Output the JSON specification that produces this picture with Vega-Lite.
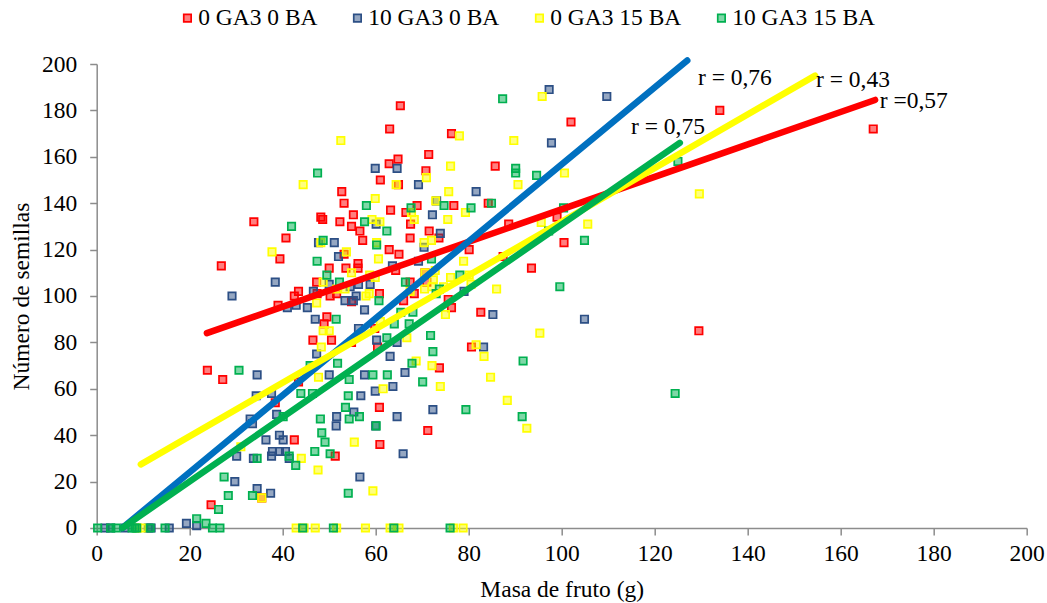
{"$schema":"https://vega.github.io/schema/vega-lite/v6.json","width":930,"height":464,"autosize":{"type":"none"},"padding":{"left":96.7,"top":64,"right":20,"bottom":75},"background":"white",
"config":{"view":{"stroke":null},"font":"Liberation Serif"},
"datasets":{"points":[
{"s":"0 GA3 0 BA","x":33.8,"y":132},{"s":"0 GA3 0 BA","x":26.8,"y":113},{"s":"0 GA3 0 BA","x":40.7,"y":125},{"s":"0 GA3 0 BA","x":39.4,"y":116},{"s":"0 GA3 0 BA","x":52.7,"y":145},{"s":"0 GA3 0 BA","x":53.2,"y":140},{"s":"0 GA3 0 BA","x":48.2,"y":134},{"s":"0 GA3 0 BA","x":48.6,"y":133},{"s":"0 GA3 0 BA","x":52.3,"y":132},{"s":"0 GA3 0 BA","x":55.2,"y":135},{"s":"0 GA3 0 BA","x":54.8,"y":130},{"s":"0 GA3 0 BA","x":56.6,"y":128},{"s":"0 GA3 0 BA","x":57.2,"y":124},{"s":"0 GA3 0 BA","x":50,"y":112},{"s":"0 GA3 0 BA","x":53.6,"y":112},{"s":"0 GA3 0 BA","x":56.2,"y":114},{"s":"0 GA3 0 BA","x":56.2,"y":112},{"s":"0 GA3 0 BA","x":53.2,"y":118},{"s":"0 GA3 0 BA","x":61,"y":150},{"s":"0 GA3 0 BA","x":47.3,"y":106},{"s":"0 GA3 0 BA","x":43.4,"y":102},{"s":"0 GA3 0 BA","x":42.5,"y":100},{"s":"0 GA3 0 BA","x":50.2,"y":100},{"s":"0 GA3 0 BA","x":51.6,"y":101},{"s":"0 GA3 0 BA","x":47.4,"y":101},{"s":"0 GA3 0 BA","x":60.8,"y":101},{"s":"0 GA3 0 BA","x":23.8,"y":68},{"s":"0 GA3 0 BA","x":27.1,"y":64},{"s":"0 GA3 0 BA","x":43.4,"y":63},{"s":"0 GA3 0 BA","x":38.4,"y":54},{"s":"0 GA3 0 BA","x":42.5,"y":38},{"s":"0 GA3 0 BA","x":51.3,"y":31},{"s":"0 GA3 0 BA","x":24.6,"y":10},{"s":"0 GA3 0 BA","x":35.5,"y":13},{"s":"0 GA3 0 BA","x":39,"y":96},{"s":"0 GA3 0 BA","x":46.5,"y":81},{"s":"0 GA3 0 BA","x":50.5,"y":81},{"s":"0 GA3 0 BA","x":49.5,"y":91},{"s":"0 GA3 0 BA","x":48.9,"y":88},{"s":"0 GA3 0 BA","x":60.4,"y":78},{"s":"0 GA3 0 BA","x":59.8,"y":86},{"s":"0 GA3 0 BA","x":54.8,"y":80},{"s":"0 GA3 0 BA","x":60.8,"y":52},{"s":"0 GA3 0 BA","x":60.9,"y":36},{"s":"0 GA3 0 BA","x":54.8,"y":97.5},{"s":"0 GA3 0 BA","x":65.3,"y":182},{"s":"0 GA3 0 BA","x":63,"y":172},{"s":"0 GA3 0 BA","x":76.3,"y":170},{"s":"0 GA3 0 BA","x":102,"y":175},{"s":"0 GA3 0 BA","x":71.4,"y":161},{"s":"0 GA3 0 BA","x":64.8,"y":159},{"s":"0 GA3 0 BA","x":62.9,"y":157},{"s":"0 GA3 0 BA","x":70.8,"y":154},{"s":"0 GA3 0 BA","x":85.7,"y":156},{"s":"0 GA3 0 BA","x":64.9,"y":148},{"s":"0 GA3 0 BA","x":68.9,"y":139},{"s":"0 GA3 0 BA","x":63.2,"y":137},{"s":"0 GA3 0 BA","x":76.8,"y":139},{"s":"0 GA3 0 BA","x":66.5,"y":136},{"s":"0 GA3 0 BA","x":67.5,"y":131},{"s":"0 GA3 0 BA","x":84.2,"y":140},{"s":"0 GA3 0 BA","x":71.5,"y":128},{"s":"0 GA3 0 BA","x":67.4,"y":125},{"s":"0 GA3 0 BA","x":73.6,"y":125},{"s":"0 GA3 0 BA","x":62.9,"y":120},{"s":"0 GA3 0 BA","x":65,"y":118},{"s":"0 GA3 0 BA","x":80.1,"y":120},{"s":"0 GA3 0 BA","x":64.3,"y":111},{"s":"0 GA3 0 BA","x":88.6,"y":131},{"s":"0 GA3 0 BA","x":99,"y":134},{"s":"0 GA3 0 BA","x":100.5,"y":123},{"s":"0 GA3 0 BA","x":93.5,"y":112},{"s":"0 GA3 0 BA","x":87.4,"y":117},{"s":"0 GA3 0 BA","x":67.4,"y":106},{"s":"0 GA3 0 BA","x":71,"y":106},{"s":"0 GA3 0 BA","x":70.6,"y":110},{"s":"0 GA3 0 BA","x":68.3,"y":101},{"s":"0 GA3 0 BA","x":75.6,"y":98.5},{"s":"0 GA3 0 BA","x":134,"y":180},{"s":"0 GA3 0 BA","x":167,"y":172},{"s":"0 GA3 0 BA","x":129.5,"y":85},{"s":"0 GA3 0 BA","x":82.6,"y":93},{"s":"0 GA3 0 BA","x":76.3,"y":95},{"s":"0 GA3 0 BA","x":80.6,"y":78},{"s":"0 GA3 0 BA","x":73.7,"y":69},{"s":"0 GA3 0 BA","x":71.2,"y":42},{"s":"0 GA3 0 BA","x":66,"y":98},
{"s":"10 GA3 0 BA","x":59.9,"y":155},{"s":"10 GA3 0 BA","x":60.1,"y":131},{"s":"10 GA3 0 BA","x":47.7,"y":123},{"s":"10 GA3 0 BA","x":51.1,"y":123},{"s":"10 GA3 0 BA","x":52,"y":117},{"s":"10 GA3 0 BA","x":38.4,"y":106},{"s":"10 GA3 0 BA","x":29.1,"y":100},{"s":"10 GA3 0 BA","x":46.6,"y":102},{"s":"10 GA3 0 BA","x":50,"y":105},{"s":"10 GA3 0 BA","x":56.3,"y":105},{"s":"10 GA3 0 BA","x":58.8,"y":105},{"s":"10 GA3 0 BA","x":54.5,"y":104},{"s":"10 GA3 0 BA","x":55.8,"y":100},{"s":"10 GA3 0 BA","x":53.4,"y":98},{"s":"10 GA3 0 BA","x":55.2,"y":98},{"s":"10 GA3 0 BA","x":41,"y":95},{"s":"10 GA3 0 BA","x":42.9,"y":96},{"s":"10 GA3 0 BA","x":45.3,"y":95},{"s":"10 GA3 0 BA","x":47,"y":90},{"s":"10 GA3 0 BA","x":57.6,"y":94},{"s":"10 GA3 0 BA","x":56.3,"y":86},{"s":"10 GA3 0 BA","x":60.2,"y":81},{"s":"10 GA3 0 BA","x":47.3,"y":75},{"s":"10 GA3 0 BA","x":34.5,"y":66},{"s":"10 GA3 0 BA","x":50,"y":66},{"s":"10 GA3 0 BA","x":57.6,"y":66},{"s":"10 GA3 0 BA","x":59.9,"y":59},{"s":"10 GA3 0 BA","x":56.8,"y":57},{"s":"10 GA3 0 BA","x":34.3,"y":57},{"s":"10 GA3 0 BA","x":37.6,"y":58},{"s":"10 GA3 0 BA","x":55.3,"y":50},{"s":"10 GA3 0 BA","x":51.6,"y":48},{"s":"10 GA3 0 BA","x":51.5,"y":44},{"s":"10 GA3 0 BA","x":60,"y":44},{"s":"10 GA3 0 BA","x":33,"y":47},{"s":"10 GA3 0 BA","x":33.5,"y":45},{"s":"10 GA3 0 BA","x":38.7,"y":49},{"s":"10 GA3 0 BA","x":39.3,"y":40},{"s":"10 GA3 0 BA","x":40.1,"y":38},{"s":"10 GA3 0 BA","x":36.4,"y":38},{"s":"10 GA3 0 BA","x":37.8,"y":33},{"s":"10 GA3 0 BA","x":39.3,"y":33},{"s":"10 GA3 0 BA","x":40.6,"y":33},{"s":"10 GA3 0 BA","x":37.6,"y":31},{"s":"10 GA3 0 BA","x":41.4,"y":30},{"s":"10 GA3 0 BA","x":33.7,"y":30},{"s":"10 GA3 0 BA","x":30.1,"y":31},{"s":"10 GA3 0 BA","x":29.7,"y":20},{"s":"10 GA3 0 BA","x":34.5,"y":17},{"s":"10 GA3 0 BA","x":37.4,"y":15},{"s":"10 GA3 0 BA","x":56.6,"y":22},{"s":"10 GA3 0 BA","x":19.3,"y":2},{"s":"10 GA3 0 BA","x":21.5,"y":1},{"s":"10 GA3 0 BA","x":1.8,"y":0},{"s":"10 GA3 0 BA","x":3,"y":0},{"s":"10 GA3 0 BA","x":6.1,"y":0},{"s":"10 GA3 0 BA","x":11.1,"y":0},{"s":"10 GA3 0 BA","x":11.7,"y":0},{"s":"10 GA3 0 BA","x":15.6,"y":0},{"s":"10 GA3 0 BA","x":97.3,"y":189},{"s":"10 GA3 0 BA","x":109.7,"y":186},{"s":"10 GA3 0 BA","x":97.8,"y":166},{"s":"10 GA3 0 BA","x":64.6,"y":155},{"s":"10 GA3 0 BA","x":69.2,"y":148},{"s":"10 GA3 0 BA","x":81.6,"y":145},{"s":"10 GA3 0 BA","x":73.1,"y":141},{"s":"10 GA3 0 BA","x":72.2,"y":135},{"s":"10 GA3 0 BA","x":73.9,"y":127},{"s":"10 GA3 0 BA","x":70.4,"y":121},{"s":"10 GA3 0 BA","x":69.2,"y":115},{"s":"10 GA3 0 BA","x":63.6,"y":113},{"s":"10 GA3 0 BA","x":79,"y":102},{"s":"10 GA3 0 BA","x":85.2,"y":92},{"s":"10 GA3 0 BA","x":104.9,"y":90},{"s":"10 GA3 0 BA","x":64.6,"y":80},{"s":"10 GA3 0 BA","x":63.1,"y":74},{"s":"10 GA3 0 BA","x":83.2,"y":78},{"s":"10 GA3 0 BA","x":66.3,"y":67},{"s":"10 GA3 0 BA","x":63.7,"y":61},{"s":"10 GA3 0 BA","x":64.6,"y":48},{"s":"10 GA3 0 BA","x":72.3,"y":51},{"s":"10 GA3 0 BA","x":65.9,"y":32},
{"s":"0 GA3 15 BA","x":52.5,"y":167},{"s":"0 GA3 15 BA","x":44.4,"y":148},{"s":"0 GA3 15 BA","x":59.9,"y":142},{"s":"0 GA3 15 BA","x":59.2,"y":133},{"s":"0 GA3 15 BA","x":60.9,"y":132},{"s":"0 GA3 15 BA","x":60.2,"y":123},{"s":"0 GA3 15 BA","x":37.7,"y":119},{"s":"0 GA3 15 BA","x":48.2,"y":123},{"s":"0 GA3 15 BA","x":53.7,"y":119},{"s":"0 GA3 15 BA","x":60.6,"y":116},{"s":"0 GA3 15 BA","x":54.8,"y":110},{"s":"0 GA3 15 BA","x":58.7,"y":109},{"s":"0 GA3 15 BA","x":59.9,"y":108},{"s":"0 GA3 15 BA","x":48.7,"y":106},{"s":"0 GA3 15 BA","x":53.4,"y":103},{"s":"0 GA3 15 BA","x":51.6,"y":103},{"s":"0 GA3 15 BA","x":58.6,"y":101},{"s":"0 GA3 15 BA","x":57.9,"y":100},{"s":"0 GA3 15 BA","x":47.3,"y":97},{"s":"0 GA3 15 BA","x":48.7,"y":85},{"s":"0 GA3 15 BA","x":50,"y":85},{"s":"0 GA3 15 BA","x":48.3,"y":78},{"s":"0 GA3 15 BA","x":47.7,"y":65},{"s":"0 GA3 15 BA","x":31,"y":35},{"s":"0 GA3 15 BA","x":44,"y":30},{"s":"0 GA3 15 BA","x":47.6,"y":25},{"s":"0 GA3 15 BA","x":55.4,"y":37},{"s":"0 GA3 15 BA","x":59.4,"y":16},{"s":"0 GA3 15 BA","x":35.5,"y":13},{"s":"0 GA3 15 BA","x":8.7,"y":0},{"s":"0 GA3 15 BA","x":9.7,"y":0},{"s":"0 GA3 15 BA","x":42.9,"y":0},{"s":"0 GA3 15 BA","x":44.6,"y":0},{"s":"0 GA3 15 BA","x":47,"y":0},{"s":"0 GA3 15 BA","x":51.6,"y":0},{"s":"0 GA3 15 BA","x":57.8,"y":0},{"s":"0 GA3 15 BA","x":63.1,"y":0},{"s":"0 GA3 15 BA","x":65,"y":0},{"s":"0 GA3 15 BA","x":76.7,"y":0},{"s":"0 GA3 15 BA","x":78.8,"y":0},{"s":"0 GA3 15 BA","x":95.8,"y":186},{"s":"0 GA3 15 BA","x":78,"y":169},{"s":"0 GA3 15 BA","x":89.7,"y":167},{"s":"0 GA3 15 BA","x":76.1,"y":156},{"s":"0 GA3 15 BA","x":70.9,"y":151},{"s":"0 GA3 15 BA","x":64.4,"y":148},{"s":"0 GA3 15 BA","x":100.6,"y":153},{"s":"0 GA3 15 BA","x":90.6,"y":148},{"s":"0 GA3 15 BA","x":75.7,"y":145},{"s":"0 GA3 15 BA","x":72.9,"y":141},{"s":"0 GA3 15 BA","x":79.3,"y":136},{"s":"0 GA3 15 BA","x":75.5,"y":133},{"s":"0 GA3 15 BA","x":68.3,"y":133},{"s":"0 GA3 15 BA","x":67.7,"y":136},{"s":"0 GA3 15 BA","x":105.6,"y":131},{"s":"0 GA3 15 BA","x":95.6,"y":131.7},{"s":"0 GA3 15 BA","x":72,"y":124},{"s":"0 GA3 15 BA","x":70.4,"y":123},{"s":"0 GA3 15 BA","x":78.9,"y":115},{"s":"0 GA3 15 BA","x":70.6,"y":110},{"s":"0 GA3 15 BA","x":72.8,"y":111},{"s":"0 GA3 15 BA","x":76.1,"y":108},{"s":"0 GA3 15 BA","x":80.1,"y":109},{"s":"0 GA3 15 BA","x":80.5,"y":105},{"s":"0 GA3 15 BA","x":72.4,"y":107},{"s":"0 GA3 15 BA","x":70.5,"y":103},{"s":"0 GA3 15 BA","x":72.1,"y":104},{"s":"0 GA3 15 BA","x":74.6,"y":104},{"s":"0 GA3 15 BA","x":86,"y":103},{"s":"0 GA3 15 BA","x":67.4,"y":102},{"s":"0 GA3 15 BA","x":75,"y":92},{"s":"0 GA3 15 BA","x":95.3,"y":84},{"s":"0 GA3 15 BA","x":66.7,"y":82},{"s":"0 GA3 15 BA","x":61,"y":89},{"s":"0 GA3 15 BA","x":81.6,"y":79},{"s":"0 GA3 15 BA","x":83.3,"y":74},{"s":"0 GA3 15 BA","x":68.7,"y":72},{"s":"0 GA3 15 BA","x":72.1,"y":70},{"s":"0 GA3 15 BA","x":84.7,"y":65},{"s":"0 GA3 15 BA","x":73.9,"y":61},{"s":"0 GA3 15 BA","x":61.6,"y":60},{"s":"0 GA3 15 BA","x":88.3,"y":55},{"s":"0 GA3 15 BA","x":92.5,"y":43},{"s":"0 GA3 15 BA","x":129.6,"y":144},
{"s":"10 GA3 15 BA","x":47.5,"y":153},{"s":"10 GA3 15 BA","x":58,"y":139},{"s":"10 GA3 15 BA","x":57.6,"y":132},{"s":"10 GA3 15 BA","x":41.9,"y":130},{"s":"10 GA3 15 BA","x":48.7,"y":124},{"s":"10 GA3 15 BA","x":60.2,"y":122},{"s":"10 GA3 15 BA","x":47.4,"y":115},{"s":"10 GA3 15 BA","x":49.5,"y":109},{"s":"10 GA3 15 BA","x":52.2,"y":106},{"s":"10 GA3 15 BA","x":60.7,"y":98},{"s":"10 GA3 15 BA","x":51.5,"y":90},{"s":"10 GA3 15 BA","x":45.9,"y":70},{"s":"10 GA3 15 BA","x":51.8,"y":71},{"s":"10 GA3 15 BA","x":30.6,"y":68},{"s":"10 GA3 15 BA","x":59.4,"y":66},{"s":"10 GA3 15 BA","x":54.3,"y":64},{"s":"10 GA3 15 BA","x":43.9,"y":58},{"s":"10 GA3 15 BA","x":46.4,"y":58},{"s":"10 GA3 15 BA","x":54.1,"y":57},{"s":"10 GA3 15 BA","x":53.5,"y":52},{"s":"10 GA3 15 BA","x":40.1,"y":48},{"s":"10 GA3 15 BA","x":48.1,"y":47},{"s":"10 GA3 15 BA","x":54.3,"y":47},{"s":"10 GA3 15 BA","x":56.5,"y":48},{"s":"10 GA3 15 BA","x":60.1,"y":44},{"s":"10 GA3 15 BA","x":48.4,"y":41},{"s":"10 GA3 15 BA","x":49.1,"y":37},{"s":"10 GA3 15 BA","x":46.9,"y":33},{"s":"10 GA3 15 BA","x":50.2,"y":32},{"s":"10 GA3 15 BA","x":41.4,"y":31},{"s":"10 GA3 15 BA","x":34.5,"y":30},{"s":"10 GA3 15 BA","x":42.8,"y":27},{"s":"10 GA3 15 BA","x":27.4,"y":22},{"s":"10 GA3 15 BA","x":28.3,"y":14},{"s":"10 GA3 15 BA","x":33.5,"y":14},{"s":"10 GA3 15 BA","x":54.1,"y":15},{"s":"10 GA3 15 BA","x":26.2,"y":8},{"s":"10 GA3 15 BA","x":21.5,"y":4},{"s":"10 GA3 15 BA","x":23.5,"y":2},{"s":"10 GA3 15 BA","x":0.2,"y":0},{"s":"10 GA3 15 BA","x":3,"y":0},{"s":"10 GA3 15 BA","x":4.2,"y":0},{"s":"10 GA3 15 BA","x":7.6,"y":0},{"s":"10 GA3 15 BA","x":8.2,"y":0},{"s":"10 GA3 15 BA","x":8.6,"y":0},{"s":"10 GA3 15 BA","x":11.5,"y":0},{"s":"10 GA3 15 BA","x":14.7,"y":0},{"s":"10 GA3 15 BA","x":24.9,"y":0},{"s":"10 GA3 15 BA","x":26.5,"y":0},{"s":"10 GA3 15 BA","x":44.3,"y":0},{"s":"10 GA3 15 BA","x":50.9,"y":0},{"s":"10 GA3 15 BA","x":63.9,"y":0},{"s":"10 GA3 15 BA","x":76,"y":0},{"s":"10 GA3 15 BA","x":87.3,"y":185},{"s":"10 GA3 15 BA","x":90.1,"y":155},{"s":"10 GA3 15 BA","x":90.1,"y":153},{"s":"10 GA3 15 BA","x":94.6,"y":152},{"s":"10 GA3 15 BA","x":74.7,"y":139},{"s":"10 GA3 15 BA","x":80.5,"y":138},{"s":"10 GA3 15 BA","x":84.9,"y":140},{"s":"10 GA3 15 BA","x":67.6,"y":138},{"s":"10 GA3 15 BA","x":100.4,"y":138},{"s":"10 GA3 15 BA","x":62.4,"y":128},{"s":"10 GA3 15 BA","x":104.9,"y":124},{"s":"10 GA3 15 BA","x":72,"y":116},{"s":"10 GA3 15 BA","x":78.1,"y":109},{"s":"10 GA3 15 BA","x":66.4,"y":106},{"s":"10 GA3 15 BA","x":73.7,"y":103},{"s":"10 GA3 15 BA","x":99.6,"y":104},{"s":"10 GA3 15 BA","x":73,"y":101},{"s":"10 GA3 15 BA","x":97.2,"y":128},{"s":"10 GA3 15 BA","x":65.4,"y":93},{"s":"10 GA3 15 BA","x":68,"y":93},{"s":"10 GA3 15 BA","x":64,"y":88},{"s":"10 GA3 15 BA","x":67.2,"y":88},{"s":"10 GA3 15 BA","x":62.4,"y":82},{"s":"10 GA3 15 BA","x":71.8,"y":83},{"s":"10 GA3 15 BA","x":72.3,"y":76},{"s":"10 GA3 15 BA","x":67.8,"y":71},{"s":"10 GA3 15 BA","x":91.7,"y":72},{"s":"10 GA3 15 BA","x":62.5,"y":66},{"s":"10 GA3 15 BA","x":70.1,"y":63},{"s":"10 GA3 15 BA","x":79.4,"y":51},{"s":"10 GA3 15 BA","x":91.5,"y":48},{"s":"10 GA3 15 BA","x":124.4,"y":58},{"s":"10 GA3 15 BA","x":125,"y":158}
],
"lines":[{"s":"0 GA3 0 BA","x":23.7,"y":84},{"s":"0 GA3 0 BA","x":167.4,"y":184.5},{"s":"10 GA3 0 BA","x":5.5,"y":0},{"s":"10 GA3 0 BA","x":127,"y":201.5},{"s":"0 GA3 15 BA","x":9.5,"y":27.4},{"s":"0 GA3 15 BA","x":154.5,"y":195},{"s":"10 GA3 15 BA","x":5.5,"y":0},{"s":"10 GA3 15 BA","x":125.4,"y":166}],
"labels":[{"t":"r = 0,76","x":129.3,"y":194},{"t":"r = 0,43","x":154.7,"y":193},{"t":"r =0,57","x":168.4,"y":184},{"t":"r = 0,75","x":114.9,"y":173}]},
"layer":[
{"data":{"name":"points"},"mark":{"type":"point","shape":"square","filled":true,"size":55,"strokeWidth":1.7,"fillOpacity":0.5,"opacity":1},
"encoding":{
"x":{"field":"x","type":"quantitative","scale":{"domain":[0,200],"nice":false},"axis":{"title":"Masa de fruto (g)","values":[0,20,40,60,80,100,120,140,160,180,200],"grid":false,"labelFlush":false,"domainColor":"#8c8c8c","domainWidth":1.5,"tickColor":"#8c8c8c","tickWidth":1.5,"tickSize":7,"labelFont":"Liberation Serif","labelFontSize":23.5,"labelColor":"#000","labelPadding":7,"titleFont":"Liberation Serif","titleFontSize":23.5,"titleFontWeight":"normal","titleColor":"#000","titlePadding":12}},
"y":{"field":"y","type":"quantitative","scale":{"domain":[0,200],"nice":false},"axis":{"title":"Número de semillas","values":[0,20,40,60,80,100,120,140,160,180,200],"grid":false,"labelFlush":false,"domainColor":"#8c8c8c","domainWidth":1.5,"tickColor":"#8c8c8c","tickWidth":1.5,"tickSize":7,"labelFont":"Liberation Serif","labelFontSize":23.5,"labelColor":"#000","labelPadding":13,"titleFont":"Liberation Serif","titleFontSize":23.5,"titleFontWeight":"normal","titleColor":"#000","titlePadding":8}},
"stroke":{"field":"s","type":"nominal","sort":null,"scale":{"domain":["0 GA3 0 BA","10 GA3 0 BA","0 GA3 15 BA","10 GA3 15 BA"],"range":["#FF0000","#2C4F85","#FFFF00","#00B050"]},"legend":{"title":null,"orient":"none","legendX":79,"legendY":-58,"direction":"horizontal","columns":4,"gridAlign":"each","labelFont":"Liberation Serif","labelFontSize":23.5,"labelColor":"#000","symbolType":"square","symbolSize":55,"symbolStrokeWidth":1.7,"columnPadding":28,"labelOffset":-1,"symbolOpacity":1,"symbolFillColor":"#dddddd","encode":{"symbols":{"update":{"fill":{"field":"value","scale":"fill"},"fillOpacity":{"value":0.5}}}}}},
"fill":{"field":"s","type":"nominal","sort":null,"scale":{"domain":["0 GA3 0 BA","10 GA3 0 BA","0 GA3 15 BA","10 GA3 15 BA"],"range":["#FF0000","#2C4F85","#FFFF00","#00B050"]},"legend":null}
}},
{"data":{"name":"lines"},"mark":{"type":"line","strokeWidth":6.5,"strokeCap":"round"},
"encoding":{"x":{"field":"x","type":"quantitative"},"y":{"field":"y","type":"quantitative"},"detail":{"field":"s","type":"nominal"},
"stroke":{"field":"s","type":"nominal","sort":null,"scale":{"domain":["0 GA3 0 BA","10 GA3 0 BA","0 GA3 15 BA","10 GA3 15 BA"],"range":["#FF0000","#0070C0","#FFFF00","#00B050"]},"legend":null},"order":{"field":"x"}}},
{"data":{"name":"labels"},"mark":{"type":"text","align":"left","baseline":"middle","font":"Liberation Serif","fontSize":23.5,"color":"#000"},
"encoding":{"x":{"field":"x","type":"quantitative"},"y":{"field":"y","type":"quantitative"},"text":{"field":"t","type":"nominal"}}}
],
"resolve":{"scale":{"stroke":"independent"}}}
